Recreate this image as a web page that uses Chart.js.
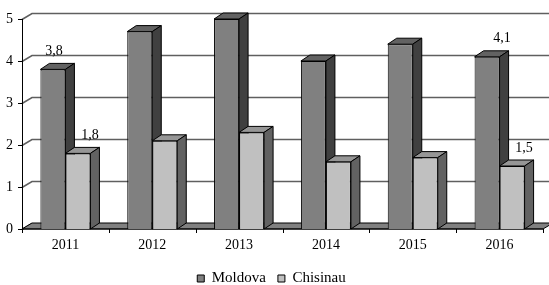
<!DOCTYPE html>
<html>
<head>
<meta charset="utf-8">
<script src="https://cdn.jsdelivr.net/npm/chart.js@4/dist/chart.umd.min.js"></script>
<style>
  html, body { margin: 0; padding: 0; background: #fff; }
  #wrap { width: 549px; height: 285px; }
</style>
</head>
<body>
<div id="wrap"><canvas id="chart" width="549" height="285"></canvas></div>
<script>
const years = ['2011', '2012', '2013', '2014', '2015', '2016']
const moldova = [3.8, 4.7, 5.0, 4.0, 4.4, 4.1]
const chisinau = [1.8, 2.1, 2.3, 1.6, 1.7, 1.5]
const yTicks = [0, 1, 2, 3, 4, 5]
// [dataset index, point index] of the values that carry a label
const labelled = [[0, 0], [1, 0], [0, 5], [1, 5]]
const labelShift = [1, 12, 15, 12]

// 3D look
const depth = { x: 9, y: 6 }
const wall = { x: 10, y: 6 }
const faces = [
  { front: '#808080', top: '#626262', side: '#404040' },
  { front: '#c0c0c0', top: '#969696', side: '#626262' }
]
const fontFamily = "'Liberation Serif', 'Times New Roman', serif"
Chart.defaults.font.family = fontFamily
Chart.defaults.color = '#000'

function poly(ctx, pts, fill) {
  ctx.beginPath()
  ctx.moveTo(pts[0][0], pts[0][1])
  for (let i = 1; i < pts.length; i++) ctx.lineTo(pts[i][0], pts[i][1])
  ctx.closePath()
  ctx.fillStyle = fill
  ctx.fill()
  ctx.stroke()
}

const box3d = {
  id: 'box3d',
  beforeDatasetsDraw(chart) {
    const ctx = chart.ctx
    const area = chart.chartArea
    const y = chart.scales.y
    const y0 = y.getPixelForValue(0)
    ctx.save()

    // back wall grid and left wall diagonals
    ctx.strokeStyle = '#5f5f5f'
    ctx.lineWidth = 1.5
    yTicks.forEach((v) => {
      const py = Math.round(y.getPixelForValue(v)) + 0.5
      ctx.beginPath()
      ctx.moveTo(area.left, py)
      ctx.lineTo(area.left + wall.x, py - wall.y)
      if (v > 0) ctx.lineTo(area.right + wall.x, py - wall.y)
      ctx.stroke()
    })

    // floor
    ctx.strokeStyle = '#000'
    ctx.lineWidth = 1
    poly(ctx, [
      [area.left, y0], [area.left + wall.x, y0 - wall.y],
      [area.right + wall.x, y0 - wall.y], [area.right, y0]
    ], '#808080')

    // axes
    ctx.beginPath()
    ctx.moveTo(area.left + 0.5, y.getPixelForValue(5))
    ctx.lineTo(area.left + 0.5, y0)
    ctx.lineTo(area.right, y0)
    yTicks.forEach((v) => {
      const py = Math.round(y.getPixelForValue(v)) + 0.5
      ctx.moveTo(area.left - 4, py)
      ctx.lineTo(area.left, py)
    })
    const step = (area.right - area.left) / years.length
    for (let i = 0; i <= years.length; i++) {
      const px = Math.round(area.left + i * step) + 0.5
      ctx.moveTo(px, y0)
      ctx.lineTo(px, y0 + 4)
    }
    ctx.stroke()

    // tops and sides, category by category, back series first
    years.forEach((_, i) => {
      faces.forEach((f, d) => {
        const bar = chart.getDatasetMeta(d).data[i]
        const l = bar.x - bar.width / 2
        const r = bar.x + bar.width / 2
        const t = bar.y
        const b = bar.base
        poly(ctx, [[l, t], [l + depth.x, t - depth.y], [r + depth.x, t - depth.y], [r, t]], f.top)
        poly(ctx, [[r, t], [r + depth.x, t - depth.y], [r + depth.x, b - depth.y], [r, b]], f.side)
      })
    })
    ctx.restore()
  },
  afterDatasetsDraw(chart) {
    const ctx = chart.ctx
    ctx.save()
    ctx.font = '14px ' + fontFamily
    ctx.fillStyle = '#000'
    ctx.textAlign = 'center'
    ctx.textBaseline = 'middle'
    labelled.forEach(([d, i], k) => {
      const bar = chart.getDatasetMeta(d).data[i]
      const v = chart.data.datasets[d].data[i]
      ctx.fillText(v.toFixed(1).replace('.', ','), bar.x + labelShift[k], bar.y - 18)
    })
    ctx.restore()
  }
}

new Chart(document.getElementById('chart'), {
  type: 'bar',
  data: {
    labels: years,
    datasets: [
      { label: 'Moldova', data: moldova, backgroundColor: faces[0].front, borderColor: '#000', borderWidth: 1 },
      { label: 'Chisinau', data: chisinau, backgroundColor: faces[1].front, borderColor: '#000', borderWidth: 1 }
    ]
  },
  options: {
    responsive: false,
    devicePixelRatio: 1,
    animation: false,
    layout: { padding: { top: 19, right: 6, left: 0, bottom: -11 } },
    datasets: { bar: { categoryPercentage: 0.576, barPercentage: 1 } },
    plugins: {
      tooltip: { enabled: false },
      legend: {
        position: 'bottom',
        labels: {
          color: '#000',
          boxWidth: 7,
          boxHeight: 7,
          padding: 12,
          font: { family: fontFamily, size: 15 }
        }
      }
    },
    scales: {
      x: {
        grid: { display: false, drawTicks: false },
        border: { display: false },
        ticks: { color: '#000', padding: 8, font: { family: fontFamily, size: 14 } },
        afterFit(scale) { scale.height = 30 }
      },
      y: {
        min: 0,
        max: 5,
        grid: { display: false, drawTicks: false },
        border: { display: false },
        ticks: { stepSize: 1, color: '#000', padding: 9, font: { family: fontFamily, size: 14 } },
        afterFit(scale) { scale.width = 22 }
      }
    }
  },
  plugins: [box3d]
})
</script>
</body>
</html>
